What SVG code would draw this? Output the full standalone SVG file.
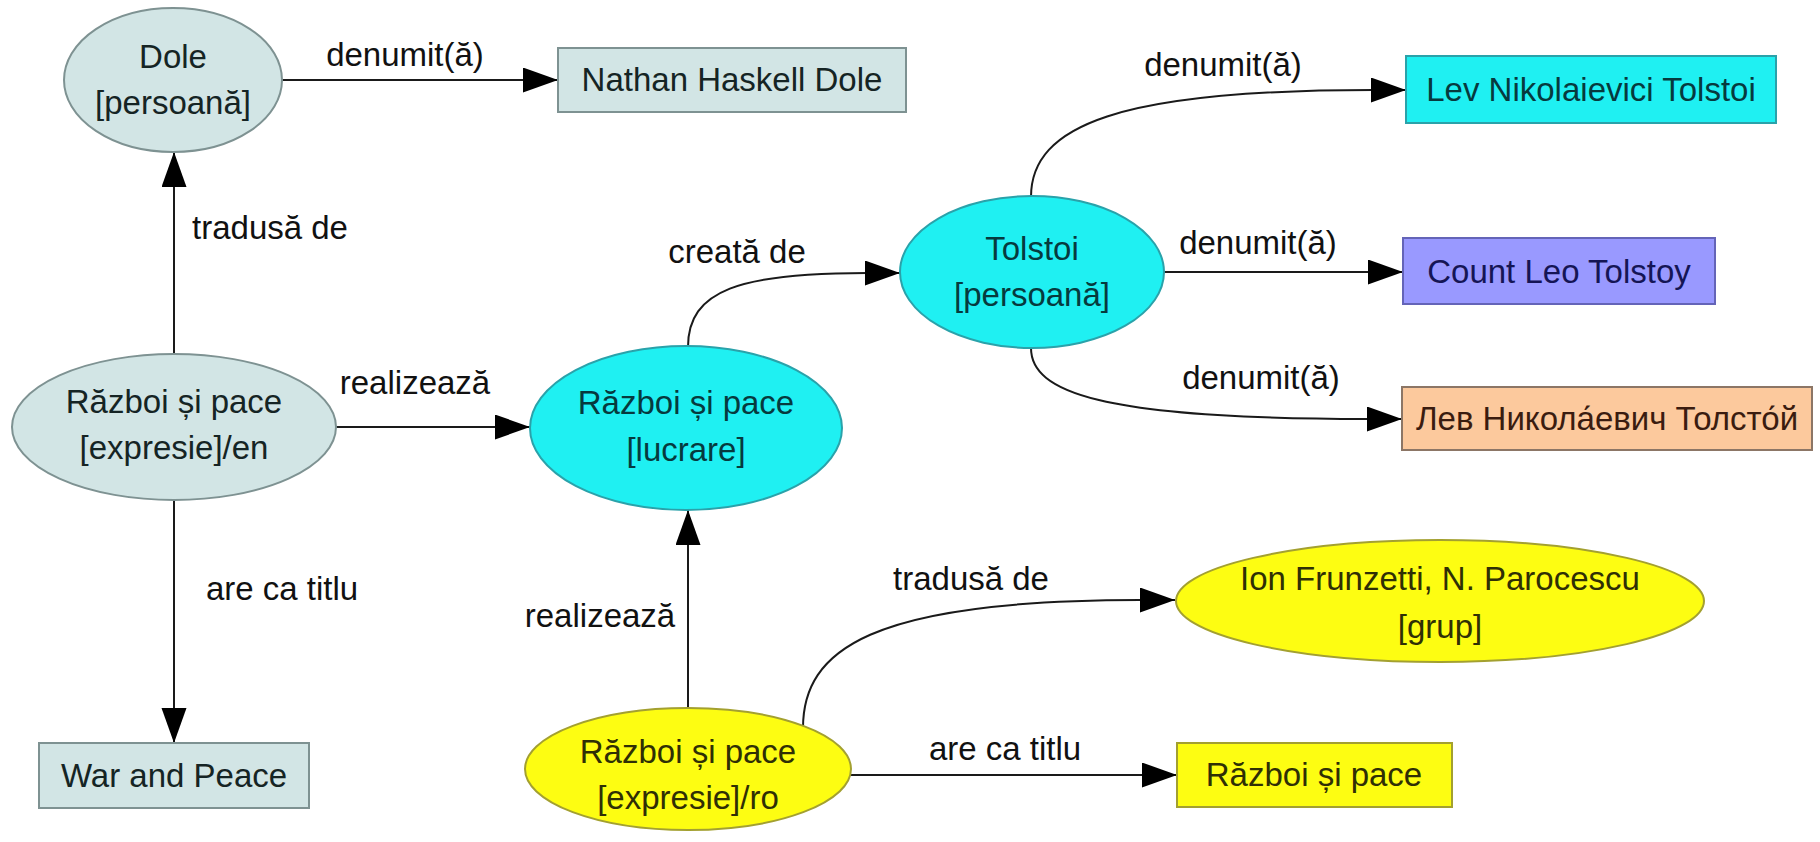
<svg xmlns="http://www.w3.org/2000/svg" width="1820" height="842" viewBox="0 0 1820 842">
<defs>
<marker id="arr" markerUnits="userSpaceOnUse" markerWidth="36" markerHeight="26" refX="35" refY="12.5" orient="auto">
<path d="M0,0 L35,12.5 L0,25 z" fill="#000"/>
</marker>
<style>
text{font-family:"Liberation Sans",Arial,sans-serif;font-size:33px;text-anchor:middle}
.lbl{fill:#111}
.edge{fill:none;stroke:#1a1a1a;stroke-width:2;marker-end:url(#arr)}
.gray{fill:#d2e5e5;stroke:#7e9292;stroke-width:2}
.gray-t{fill:#152424}
.cyan{fill:#1ff0f2;stroke:#2aa2aa;stroke-width:2}
.cyan-t{fill:#063a3e}
.blue{fill:#9999ff;stroke:#6464b8;stroke-width:2}
.blue-t{fill:#151555}
.peach{fill:#fcc99d;stroke:#8c7666;stroke-width:2}
.peach-t{fill:#3a1c10}
.yel{fill:#fdfd12;stroke:#a3a030;stroke-width:2}
.yel-t{fill:#2f2f05}
</style>
</defs>
<rect width="1820" height="842" fill="#fff"/>

<g id="connectors">
<path class="edge" d="M282,80 H558"/>
<path class="edge" d="M174,355 V152"/>
<path class="edge" d="M336,427 H530"/>
<path class="edge" d="M174,500 V743"/>
<path class="edge" d="M688,347 C688,290 740,273 867,273 L900,273"/>
<path class="edge" d="M1031,197 C1031,125 1120,90 1373,90 L1406,90"/>
<path class="edge" d="M1164,272 H1403"/>
<path class="edge" d="M1031,348 C1031,392 1100,419 1367,419 L1402,419"/>
<path class="edge" d="M688,708 V510"/>
<path class="edge" d="M803,728 C803,650 870,600 1140,600 L1175,600"/>
<path class="edge" d="M850,775 H1177"/>
<text class="lbl" x="405" y="66">denumit(ă)</text>
<text class="lbl" x="270" y="239">tradusă de</text>
<text class="lbl" x="415" y="394">realizează</text>
<text class="lbl" x="282" y="600">are ca titlu</text>
<text class="lbl" x="737" y="263">creată de</text>
<text class="lbl" x="600" y="627">realizează</text>
<text class="lbl" x="1223" y="76">denumit(ă)</text>
<text class="lbl" x="1258" y="254">denumit(ă)</text>
<text class="lbl" x="1261" y="389">denumit(ă)</text>
<text class="lbl" x="971" y="590">tradusă de</text>
<text class="lbl" x="1005" y="760">are ca titlu</text>
</g>

<g id="dole">
<ellipse class="gray" cx="173" cy="80" rx="109" ry="72"/>
<text class="gray-t" x="173" y="68">Dole</text>
<text class="gray-t" x="173" y="114">[persoană]</text>
</g>

<g id="nathan">
<rect class="gray" x="558" y="48" width="348" height="64"/>
<text class="gray-t" x="732" y="91">Nathan Haskell Dole</text>
</g>

<g id="expresie-en">
<ellipse class="gray" cx="174" cy="427" rx="162" ry="73"/>
<text class="gray-t" x="174" y="413">Război și pace</text>
<text class="gray-t" x="174" y="459">[expresie]/en</text>
</g>

<g id="war-and-peace">
<rect class="gray" x="39" y="743" width="270" height="65"/>
<text class="gray-t" x="174" y="787">War and Peace</text>
</g>

<g id="lucrare">
<ellipse class="cyan" cx="686" cy="428" rx="156" ry="82"/>
<text class="cyan-t" x="686" y="414">Război și pace</text>
<text class="cyan-t" x="686" y="461">[lucrare]</text>
</g>

<g id="tolstoi">
<ellipse class="cyan" cx="1032" cy="272" rx="132" ry="76"/>
<text class="cyan-t" x="1032" y="260">Tolstoi</text>
<text class="cyan-t" x="1032" y="306">[persoană]</text>
</g>

<g id="lev">
<rect class="cyan" x="1406" y="56" width="370" height="67"/>
<text class="cyan-t" x="1591" y="101">Lev Nikolaievici Tolstoi</text>
</g>

<g id="count">
<rect class="blue" x="1403" y="238" width="312" height="66"/>
<text class="blue-t" x="1559" y="283">Count Leo Tolstoy</text>
</g>

<g id="russian">
<rect class="peach" x="1402" y="387" width="410" height="63"/>
<text class="peach-t" x="1607" y="430">Лев Никола́евич Толсто́й</text>
</g>

<g id="expresie-ro">
<ellipse class="yel" cx="688" cy="769" rx="163" ry="61"/>
<text class="yel-t" x="688" y="763">Război și pace</text>
<text class="yel-t" x="688" y="809">[expresie]/ro</text>
</g>

<g id="frunzetti">
<ellipse class="yel" cx="1440" cy="601" rx="264" ry="61"/>
<text class="yel-t" x="1440" y="590">Ion Frunzetti, N. Parocescu</text>
<text class="yel-t" x="1440" y="638">[grup]</text>
</g>

<g id="razboi-title">
<rect class="yel" x="1177" y="743" width="275" height="64"/>
<text class="yel-t" x="1314" y="786">Război și pace</text>
</g>
</svg>
